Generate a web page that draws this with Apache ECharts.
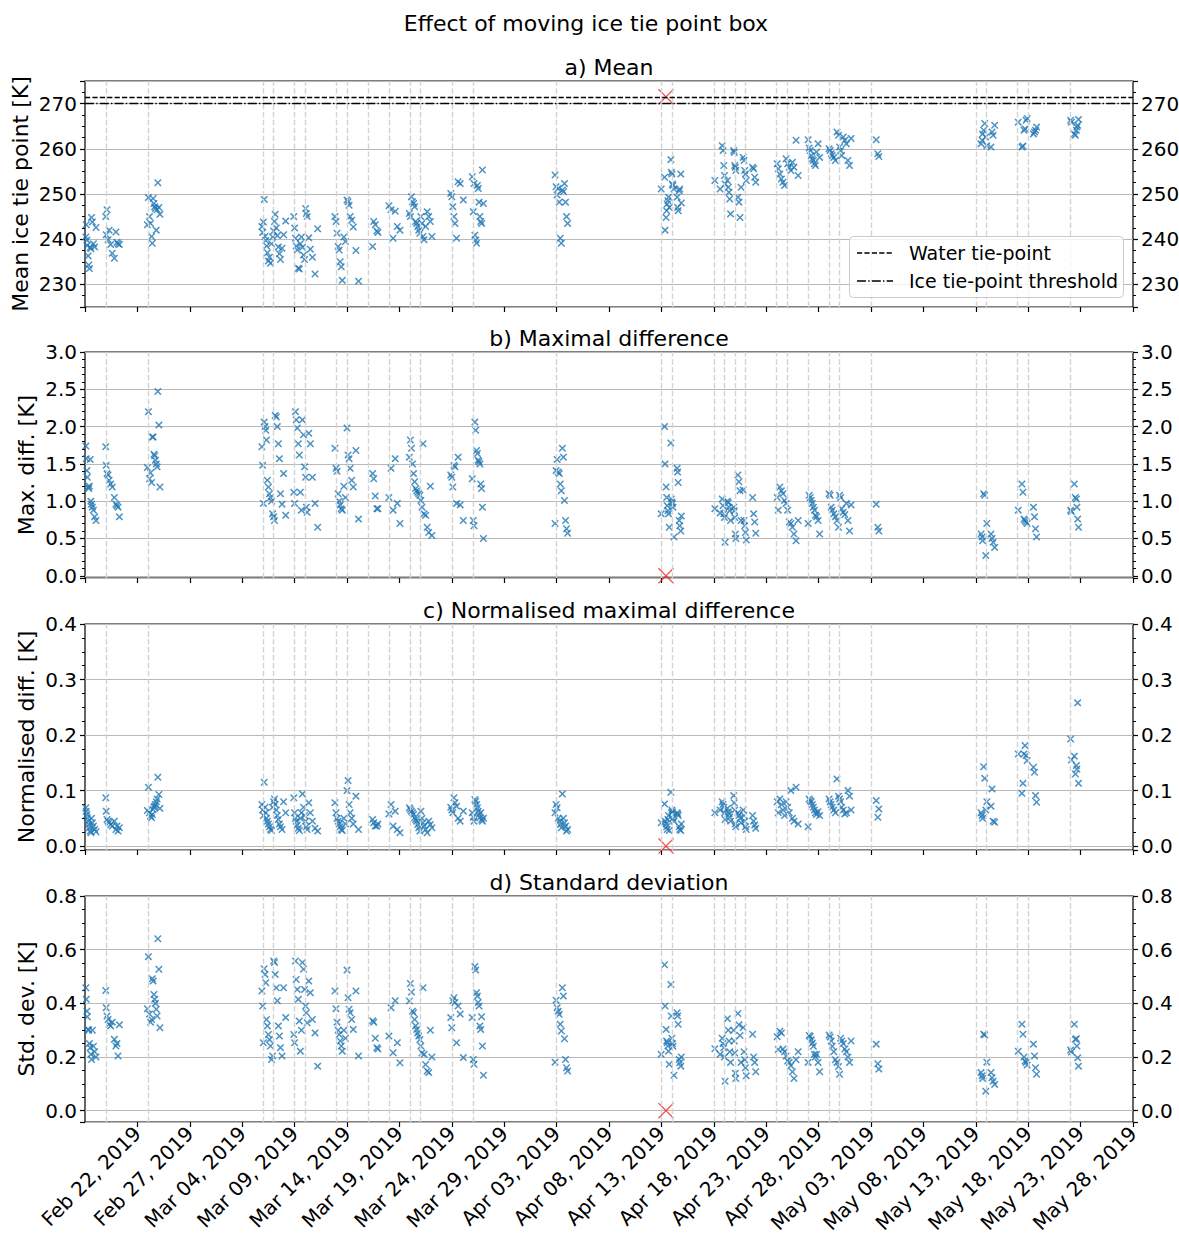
<!DOCTYPE html>
<html>
<head>
<meta charset="utf-8">
<title>Effect of moving ice tie point box</title>
<script src="https://cdn.jsdelivr.net/npm/echarts@6/dist/echarts.min.js"></script>
<style>
html, body { margin: 0; padding: 0; background: #fff; }
#main { width: 1179px; height: 1238px; }
</style>
</head>
<body>
<div id="main"></div>
<script>
// x values are days since 2019-02-17 00:00
var startDate = [2019, 1, 17];
var monthNames = ['Jan', 'Feb', 'Mar', 'Apr', 'May', 'Jun', 'Jul', 'Aug', 'Sep', 'Oct', 'Nov', 'Dec'];

// days with a grey dashed marker
var eventDays = [2, 6, 17, 18, 20, 21, 24, 25, 27, 29, 31, 32, 35, 37, 45,
    55, 56, 60, 61, 62, 63, 66, 67, 69, 71, 72, 75, 85, 86, 89, 90, 94];

var waterTiePoint = 271.5;
var iceThreshold = 270;

// time of each run
var obsDay = [
    0.08, 0.12, 0.18, 0.22, 0.3, 0.36, 0.42, 0.5, 0.56, 0.62, 0.7, 0.8, 0.92, 1.05,
    1.98, 2.02, 2.1, 2.2, 2.3, 2.45, 2.6, 2.8, 2.95, 3.05, 3.15, 3.28,
    5.95, 6.05, 6.15, 6.25, 6.35, 6.42, 6.5, 6.58, 6.65, 6.72, 6.8, 6.88, 6.95, 7.05, 7.15,
    16.88, 16.95, 17.02, 17.1, 17.18, 17.25, 17.32, 17.4, 17.5, 17.6, 17.7, 17.8, 17.9, 18.0, 18.08, 18.15, 18.25, 18.35, 18.45, 18.55, 18.65, 18.8, 18.95, 19.15,
    19.92, 20.0, 20.08, 20.15, 20.25, 20.35, 20.45, 20.55, 20.65, 20.75, 20.85, 20.95, 21.05, 21.12, 21.2, 21.35, 21.5, 21.7, 21.95, 22.2,
    23.85, 23.95, 24.05, 24.15, 24.25, 24.35, 24.45, 24.55, 24.7, 24.85, 25.0, 25.1, 25.2, 25.3, 25.45, 25.6, 25.85, 26.1,
    27.45, 27.55, 27.7, 27.85, 27.95,
    29.0, 29.2, 29.4, 29.6, 29.8, 30.05,
    30.95, 31.05, 31.15, 31.25, 31.35, 31.45, 31.55, 31.65, 31.75, 31.85, 31.95, 32.05, 32.15, 32.25, 32.35, 32.5, 32.65, 32.8, 32.95, 33.1,
    34.9, 35.0, 35.1, 35.2, 35.3, 35.45, 35.6, 35.8, 36.1,
    36.95, 37.05, 37.12, 37.2, 37.28, 37.36, 37.44, 37.52, 37.6, 37.68, 37.76, 37.84, 37.92, 38.02,
    44.85, 44.95, 45.05, 45.15, 45.25, 45.35, 45.45, 45.55, 45.65, 45.75, 45.85, 45.95, 46.05,
    54.98, 55.3, 55.35, 55.45, 55.5, 55.55, 55.62, 55.68, 55.75, 55.9, 55.95, 56.0, 56.05, 56.1, 56.2, 56.5, 56.55, 56.6, 56.7, 56.75, 56.85, 56.9,
    60.1, 60.6, 60.8, 60.88, 60.95, 61.02, 61.08, 61.3, 61.38, 61.45, 61.52, 61.6, 61.9, 61.95, 62.0, 62.05, 62.1, 62.3, 62.4, 62.5, 62.6, 62.8, 62.88, 62.95, 63.02, 63.1, 63.7, 63.8, 63.9, 64.0,
    66.05, 66.15, 66.3, 66.45, 66.6, 66.75, 66.9, 67.05, 67.2, 67.35, 67.5, 67.65, 67.85, 68.05,
    69.0, 69.1, 69.2, 69.3, 69.4, 69.5, 69.6, 69.7, 69.8, 69.95, 70.1,
    71.0, 71.1, 71.2, 71.3, 71.45, 71.6, 71.75, 71.9, 72.0, 72.1, 72.2, 72.35, 72.5, 72.65, 72.8, 72.95, 73.1,
    75.5, 75.65, 75.75,
    85.5, 85.6, 85.65, 85.75, 85.85, 85.95, 86.05, 86.45, 86.55, 86.65, 86.8,
    89.05, 89.4, 89.5, 89.6, 89.7, 89.8, 89.9, 90.5, 90.6, 90.7, 90.8,
    94.05, 94.12, 94.4, 94.5, 94.6, 94.65, 94.72, 94.8
];

// a) mean ice tie point [K]
var meanIce = [
    240.5, 243.2, 239.8, 238.6, 236.3, 234.3, 233.5, 238.2, 237.9, 244.8, 243.8, 239.0, 238.3, 242.6,
    245.0, 241.0, 246.5, 239.9, 242.0, 238.8, 236.9, 235.8, 241.6, 239.3, 239.0, 238.8,
    243.2, 249.2, 245.0, 243.5, 240.6, 239.1, 249.0, 247.9, 247.2, 246.8, 242.0, 246.5, 252.5, 247.0, 245.5,
    242.8, 241.5, 243.8, 248.8, 240.6, 239.7, 238.5, 237.0, 235.2, 236.0, 234.7, 239.0, 240.5, 241.8, 243.9, 245.5, 242.5, 240.8, 238.3, 236.8, 235.5, 238.0, 241.0, 244.0,
    245.0, 242.5, 240.2, 238.5, 237.6, 233.6, 233.4, 239.0, 240.5, 238.2, 236.5, 235.5, 246.8, 245.7, 245.0, 240.3, 237.8, 236.0, 232.3, 242.3,
    245.0, 243.9, 241.3, 238.4, 237.6, 235.0, 233.9, 230.9, 240.5, 239.5, 248.7, 248.3, 247.5, 245.0, 244.2, 242.7, 237.5, 230.7,
    238.4, 243.9, 243.2, 241.8, 241.5,
    247.4, 246.5, 240.2, 246.2, 242.8, 242.0,
    245.7, 245.0, 249.4, 248.3, 247.9, 247.2, 243.9, 243.5, 242.8, 242.0, 241.3, 245.0, 243.5, 240.6, 239.9, 242.8, 246.1, 245.0, 243.9, 240.6,
    250.1, 249.4, 247.2, 245.0, 243.5, 240.2, 252.7, 252.3, 248.7,
    253.8, 246.1, 252.3, 240.9, 239.8, 239.1, 251.9, 251.2, 248.2, 245.0, 243.9, 243.5, 255.3, 247.9,
    254.2, 251.6, 249.8, 251.2, 248.2, 240.2, 239.1, 250.9, 250.5, 252.3, 248.2, 245.0, 243.5,
    251.1, 253.7, 242.0, 244.8, 246.3, 247.8, 248.5, 249.3, 247.0, 257.6, 254.8, 254.4, 252.2, 251.9, 251.1, 249.3, 247.0, 246.3, 250.7, 251.1, 254.4, 248.0,
    253.0, 251.1, 260.7, 259.6, 256.3, 254.1, 252.2, 253.0, 251.5, 250.4, 248.9, 245.6, 259.6, 259.2, 256.3, 255.9, 255.2, 249.3, 248.2, 244.8, 251.5, 258.1, 257.4, 255.2, 254.4, 253.0, 255.9, 255.6, 253.7, 252.6,
    256.7, 255.6, 254.4, 253.3, 252.6, 251.9, 257.8, 256.7, 255.9, 255.2, 257.0, 255.9, 261.9, 254.1,
    262.0, 260.2, 259.6, 258.5, 257.8, 257.4, 256.7, 256.3, 259.3, 261.1, 258.1,
    260.0, 259.6, 258.9, 258.5, 258.1, 257.4, 263.7, 263.0, 260.4, 259.6, 258.5, 262.6, 261.9, 261.1, 257.4, 256.3, 262.3,
    262.0, 258.9, 258.3,
    261.1, 261.9, 263.3, 264.1, 265.6, 262.6, 260.7, 260.4, 263.7, 263.0, 265.2,
    265.9, 260.4, 260.6, 264.1, 264.4, 266.3, 266.7, 263.3, 263.7, 264.1, 264.8,
    266.3, 265.9, 263.3, 263.0, 264.1, 264.8, 265.2, 266.5
];

// b) maximal difference [K]
var maxDiff = [
    1.74, 1.57, 1.41, 1.32, 1.19, 1.17, 1.2, 1.56, 1.0, 0.96, 0.92, 0.88, 0.79, 0.74,
    1.73, 1.48, 1.37, 1.35, 1.28, 1.23, 1.19, 1.05, 0.96, 0.94, 0.92, 0.79,
    1.45, 2.2, 1.3, 1.38, 1.25, 1.86, 1.86, 1.63, 1.61, 1.55, 1.5, 1.46, 2.47, 2.02, 1.19,
    1.73, 1.48, 0.97, 2.06, 2.0, 1.95, 1.82, 1.28, 1.19, 1.1, 1.05, 1.0, 0.83, 0.79, 0.74, 2.15, 2.13, 2.0, 1.77, 1.57, 1.1, 0.96, 1.37, 0.81,
    1.12, 0.97, 2.2, 2.09, 1.98, 1.77, 1.62, 1.12, 0.88, 2.09, 1.89, 1.46, 1.32, 0.92, 0.85, 1.91, 1.77, 1.32, 0.97, 0.65,
    1.71, 1.44, 1.4, 1.1, 1.0, 0.95, 0.9, 0.88, 1.2, 1.05, 1.98, 1.62, 1.57, 1.44, 1.28, 1.19, 1.68, 0.76,
    1.37, 1.3, 1.07, 0.9, 0.9,
    1.05, 1.44, 0.88, 1.57, 0.97, 0.7,
    1.59, 1.82, 1.71, 1.5, 1.37, 1.26, 1.17, 1.14, 1.12, 1.1, 1.08, 1.01, 0.92, 1.77, 0.83, 0.81, 0.65, 0.58, 1.2, 0.54,
    1.35, 1.32, 1.19, 1.48, 1.46, 0.97, 1.59, 0.95, 0.74,
    1.3, 0.74, 0.67, 2.06, 1.95, 1.68, 1.64, 1.55, 1.53, 1.5, 1.23, 1.17, 0.92, 0.5,
    0.7, 1.41, 1.56, 1.39, 1.37, 1.23, 1.14, 1.71, 1.59, 1.01, 0.74, 0.63, 0.57,
    0.83, 2.0, 1.5, 1.19, 1.05, 0.94, 0.87, 0.83, 0.65, 1.78, 1.03, 0.99, 0.97, 0.92, 0.52, 1.44, 1.39, 1.25, 0.74, 0.67, 0.6, 0.8,
    0.9, 0.84, 1.03, 0.94, 0.83, 0.78, 0.45, 1.0, 0.98, 0.92, 0.87, 0.74, 0.92, 0.87, 0.78, 0.56, 0.5, 1.35, 1.26, 1.14, 0.74, 1.15, 0.74, 0.67, 0.58, 0.48, 1.05, 0.83, 0.72, 0.57,
    1.05, 0.88, 1.19, 1.14, 1.1, 1.01, 0.97, 0.88, 0.72, 0.7, 0.65, 0.56, 0.47, 0.74,
    0.7, 1.08, 1.05, 1.01, 0.97, 0.92, 0.88, 0.81, 0.79, 0.74, 0.56,
    1.1, 1.08, 0.92, 0.88, 0.83, 0.79, 0.74, 0.65, 1.08, 1.05, 0.9, 0.85, 0.82, 0.97, 0.74, 0.6, 0.95,
    0.96, 0.65, 0.6,
    0.56, 0.52, 0.47, 1.1, 1.08, 0.27, 0.7, 0.56, 0.5, 0.45, 0.38,
    0.88, 1.23, 1.12, 0.76, 0.74, 0.72, 0.7, 0.92, 0.79, 0.63, 0.52,
    0.88, 0.86, 1.23, 1.05, 1.03, 0.92, 0.76, 0.65
];

// c) normalised maximal difference [K]
var normDiff = [
    0.069, 0.063, 0.057, 0.051, 0.045, 0.039, 0.033, 0.027, 0.024, 0.05, 0.042, 0.036, 0.03, 0.026,
    0.087, 0.063, 0.048, 0.045, 0.042, 0.039, 0.036, 0.045, 0.03, 0.036, 0.027, 0.033,
    0.064, 0.106, 0.06, 0.054, 0.051, 0.057, 0.066, 0.07, 0.072, 0.075, 0.08, 0.085, 0.124, 0.093, 0.068,
    0.075, 0.065, 0.055, 0.115, 0.07, 0.06, 0.05, 0.045, 0.04, 0.035, 0.03, 0.028, 0.07, 0.08, 0.085, 0.075, 0.065, 0.055, 0.048, 0.04, 0.035, 0.03, 0.08, 0.06,
    0.087, 0.06, 0.05, 0.045, 0.038, 0.032, 0.028, 0.05, 0.06, 0.094, 0.07, 0.055, 0.045, 0.035, 0.03, 0.078, 0.06, 0.045, 0.032, 0.027,
    0.078, 0.06, 0.05, 0.045, 0.04, 0.035, 0.03, 0.028, 0.05, 0.04, 0.1, 0.118, 0.075, 0.06, 0.05, 0.04, 0.09, 0.03,
    0.048, 0.042, 0.036, 0.036, 0.04,
    0.058, 0.075, 0.036, 0.063, 0.03, 0.024,
    0.069, 0.066, 0.063, 0.06, 0.057, 0.051, 0.048, 0.045, 0.039, 0.033, 0.027, 0.063, 0.05, 0.042, 0.036, 0.03, 0.024, 0.045, 0.039, 0.033,
    0.07, 0.065, 0.06, 0.087, 0.078, 0.072, 0.05, 0.045, 0.063,
    0.06, 0.052, 0.045, 0.084, 0.081, 0.075, 0.069, 0.063, 0.057, 0.051, 0.06, 0.048, 0.045, 0.05,
    0.06, 0.075, 0.069, 0.05, 0.045, 0.039, 0.033, 0.094, 0.05, 0.042, 0.036, 0.027, 0.03,
    0.042, 0.076, 0.045, 0.04, 0.035, 0.03, 0.048, 0.055, 0.028, 0.097, 0.06, 0.065, 0.062, 0.05, 0.045, 0.06, 0.058, 0.055, 0.035, 0.03, 0.028, 0.04,
    0.06, 0.065, 0.08, 0.075, 0.07, 0.06, 0.048, 0.068, 0.062, 0.058, 0.052, 0.045, 0.091, 0.078, 0.065, 0.04, 0.035, 0.06, 0.055, 0.05, 0.042, 0.065, 0.055, 0.045, 0.035, 0.03, 0.055, 0.045, 0.038, 0.032,
    0.08, 0.06, 0.085, 0.075, 0.065, 0.055, 0.08, 0.07, 0.06, 0.1, 0.05, 0.045, 0.106, 0.04,
    0.035, 0.085, 0.082, 0.08, 0.075, 0.07, 0.065, 0.06, 0.057, 0.062, 0.055,
    0.085, 0.08, 0.075, 0.07, 0.065, 0.06, 0.121, 0.09, 0.085, 0.08, 0.07, 0.065, 0.058, 0.06, 0.1, 0.09, 0.065,
    0.082, 0.052, 0.067,
    0.06, 0.055, 0.05, 0.143, 0.122, 0.065, 0.08, 0.072, 0.103, 0.045, 0.043,
    0.166, 0.095, 0.113, 0.166, 0.181, 0.163, 0.154, 0.142, 0.133, 0.091, 0.079,
    0.193, 0.155, 0.162, 0.13, 0.145, 0.139, 0.258, 0.113
];

// d) standard deviation [K]
var stdDev = [
    0.458, 0.415, 0.371, 0.35, 0.303, 0.3, 0.25, 0.235, 0.21, 0.191, 0.3, 0.24, 0.22, 0.2,
    0.448, 0.384, 0.353, 0.34, 0.322, 0.316, 0.33, 0.266, 0.241, 0.25, 0.204, 0.32,
    0.38, 0.574, 0.36, 0.33, 0.34, 0.492, 0.483, 0.433, 0.415, 0.4, 0.378, 0.353, 0.641, 0.527, 0.309,
    0.446, 0.39, 0.253, 0.529, 0.508, 0.477, 0.34, 0.316, 0.284, 0.265, 0.241, 0.191, 0.204, 0.558, 0.552, 0.508, 0.458, 0.41, 0.316, 0.278, 0.235, 0.204, 0.458, 0.347,
    0.284, 0.253, 0.558, 0.489, 0.452, 0.415, 0.334, 0.222, 0.3, 0.552, 0.527, 0.452, 0.39, 0.365, 0.328, 0.483, 0.44, 0.34, 0.29, 0.166,
    0.446, 0.38, 0.33, 0.3, 0.284, 0.26, 0.241, 0.222, 0.3, 0.27, 0.524, 0.421, 0.378, 0.365, 0.34, 0.303, 0.446, 0.204,
    0.335, 0.33, 0.27, 0.235, 0.23,
    0.278, 0.384, 0.216, 0.41, 0.253, 0.179,
    0.409, 0.474, 0.442, 0.371, 0.365, 0.34, 0.316, 0.303, 0.29, 0.278, 0.265, 0.241, 0.215, 0.458, 0.21, 0.172, 0.148, 0.142, 0.3, 0.2,
    0.347, 0.309, 0.41, 0.421, 0.403, 0.253, 0.39, 0.36, 0.198,
    0.347, 0.191, 0.173, 0.537, 0.524, 0.44, 0.427, 0.403, 0.39, 0.316, 0.303, 0.35, 0.241, 0.132,
    0.181, 0.412, 0.384, 0.371, 0.359, 0.322, 0.297, 0.458, 0.427, 0.268, 0.191, 0.16, 0.148,
    0.21, 0.544, 0.39, 0.303, 0.26, 0.253, 0.241, 0.222, 0.173, 0.47, 0.353, 0.27, 0.25, 0.24, 0.132, 0.365, 0.353, 0.322, 0.191, 0.179, 0.166, 0.2,
    0.231, 0.21, 0.27, 0.25, 0.235, 0.2, 0.11, 0.343, 0.3, 0.26, 0.22, 0.18, 0.3, 0.26, 0.215, 0.14, 0.12, 0.362, 0.32, 0.28, 0.18, 0.31, 0.22, 0.19, 0.16, 0.13, 0.285, 0.2, 0.18, 0.145,
    0.276, 0.228, 0.296, 0.29, 0.23, 0.22, 0.204, 0.185, 0.18, 0.168, 0.145, 0.12, 0.19, 0.22,
    0.18, 0.28, 0.277, 0.264, 0.252, 0.24, 0.21, 0.2, 0.21, 0.18, 0.145,
    0.282, 0.275, 0.26, 0.24, 0.22, 0.19, 0.18, 0.165, 0.136, 0.27, 0.26, 0.25, 0.23, 0.22, 0.2, 0.18, 0.26,
    0.248, 0.175, 0.155,
    0.142, 0.13, 0.12, 0.285, 0.282, 0.073, 0.181, 0.142, 0.123, 0.11, 0.098,
    0.222, 0.322, 0.285, 0.2, 0.185, 0.18, 0.17, 0.248, 0.204, 0.16, 0.136,
    0.226, 0.219, 0.322, 0.266, 0.268, 0.241, 0.197, 0.166
];

// the run with the box moved onto water (red cross)
var outlierDay = 55.44;
var outlierValues = [271.5, 0, 0, 0];

var panelTitles = ['a) Mean', 'b) Maximal difference', 'c) Normalised maximal difference', 'd) Standard deviation'];
var yLabels = ['Mean ice tie point [K]', 'Max. diff. [K]', 'Normalised diff. [K]', 'Std. dev. [K]'];
var panelValues = [meanIce, maxDiff, normDiff, stdDev];

// axes setup
var yRange = [[225, 275], [-0.03, 3], [-0.007, 0.4], [-0.042, 0.8]];
var ySplit = [5, 6, 4, 4];
var yMinor = [4, 5, 4, 4];
var yDigits = [0, 1, 1, 1];
var yNameGap = [54, 48, 48, 48];
var gridTop = [81, 352, 624, 896];
var gridHeight = 226;
var gridLeft = 85, gridRight = 46;

var font = 'DejaVu Sans';
var blue = '#1f77b4';
var xMark = 'path://M0,1.4L1.4,0L5,3.6L8.6,0L10,1.4L6.4,5L10,8.6L8.6,10L5,6.4L1.4,10L0,8.6L3.6,5Z';
var redMark = 'path://M0,0.55L0.55,0L5,4.45L9.45,0L10,0.55L5.55,5L10,9.45L9.45,10L5,5.55L0.55,10L0,9.45L4.45,5Z';

function dayLabel(d) {
    if (d <= 0) return '';
    var dt = new Date(startDate[0], startDate[1], startDate[2] + d);
    var dd = dt.getDate();
    return monthNames[dt.getMonth()] + ' ' + (dd < 10 ? '0' + dd : dd) + ', ' + dt.getFullYear();
}

var myChart = echarts.init(document.getElementById('main'), null, {renderer: 'svg'});

var grids = [], xAxes = [], yAxes = [], series = [], graphics = [];

gridTop.forEach(function (top, i) {
    grids.push({
        left: gridLeft, right: gridRight, top: top, height: gridHeight,
        show: true, borderColor: '#000', borderWidth: 1.2,
        backgroundColor: 'transparent', containLabel: false, outerBoundsMode: 'none'
    });

    xAxes.push({
        type: 'value', gridIndex: i, min: 0, max: 100, interval: 5,
        axisLine: {show: false, onZero: false},
        axisTick: {show: true, length: 5, lineStyle: {color: '#000', width: 1.2}},
        splitLine: {show: false},
        axisLabel: {
            show: i === 3, rotate: 45, margin: 8, fontSize: 20, fontFamily: font, color: '#000',
            showMinLabel: false, showMaxLabel: true, formatter: dayLabel
        }
    });

    ['left', 'right'].forEach(function (side) {
        yAxes.push({
            type: 'value', gridIndex: i, position: side,
            min: yRange[i][0], max: yRange[i][1], splitNumber: ySplit[i],
            axisLine: {show: false, onZero: false},
            axisTick: {show: true, length: 5, lineStyle: {color: '#000', width: 1.2}},
            minorTick: {show: true, splitNumber: yMinor[i], length: 3, lineStyle: {color: '#000', width: 1}},
            splitLine: {show: side === 'left', lineStyle: {color: '#b8b8b8', width: 1.2}},
            axisLabel: {
                fontSize: 20, fontFamily: font, color: '#000', margin: 8,
                showMinLabel: false, showMaxLabel: i !== 0,
                formatter: function (v) { return v.toFixed(yDigits[i]); }
            },
            name: side === 'left' ? yLabels[i] : '',
            nameLocation: 'middle', nameGap: yNameGap[i], nameMoveOverlap: false,
            nameTextStyle: {fontSize: 22, fontFamily: font, color: '#000'}
        });
    });

    var vals = panelValues[i];
    series.push({
        type: 'scatter', xAxisIndex: i, yAxisIndex: 2 * i,
        data: obsDay.map(function (d, k) { return [d, vals[k]]; }),
        symbol: xMark, symbolSize: 7.5,
        itemStyle: {color: blue},
        z: 3, silent: true
    });
    series.push({
        type: 'scatter', xAxisIndex: i, yAxisIndex: 2 * i,
        data: [[outlierDay, outlierValues[i]]],
        symbol: redMark, symbolSize: 16,
        itemStyle: {color: '#f01c1c'},
        z: 4, silent: true
    });

    var lines = eventDays.map(function (d) {
        return {xAxis: d, lineStyle: {color: '#d3d3d3', width: 1.4, type: [5.5, 2.4]}};
    });
    if (i === 0) {
        lines.push({yAxis: waterTiePoint, lineStyle: {color: '#000', width: 1.3, type: [5.2, 2.2]}});
        lines.push({yAxis: iceThreshold, lineStyle: {color: '#000', width: 1.3, type: [9, 2.2, 1.4, 2.2]}});
    }
    series.push({
        type: 'line', xAxisIndex: i, yAxisIndex: 2 * i, data: [], z: 1, silent: true,
        markLine: {silent: true, symbol: ['none', 'none'], label: {show: false}, animation: false, data: lines}
    });

    graphics.push({
        type: 'text', x: gridLeft + (1179 - gridLeft - gridRight) / 2, y: top - 14,
        style: {text: panelTitles[i], fill: '#000', font: '22px "DejaVu Sans"',
            align: 'center', verticalAlign: 'middle', textAlign: 'center', textVerticalAlign: 'middle'}
    });
});

// figure title
graphics.push({
    type: 'text', x: 586, y: 23,
    style: {text: 'Effect of moving ice tie point box', fill: '#000', font: '22px "DejaVu Sans"',
        align: 'center', verticalAlign: 'middle', textAlign: 'center', textVerticalAlign: 'middle'}
});

// legend of panel a
graphics.push(
    {type: 'rect', z: 100, zlevel: 1, shape: {x: 849.5, y: 236.5, width: 274, height: 61, r: 4},
        style: {fill: 'rgba(255,255,255,0.8)', stroke: '#cccccc', lineWidth: 1}},
    {type: 'line', z: 101, zlevel: 1, shape: {x1: 857, y1: 253, x2: 893, y2: 253},
        style: {stroke: '#000', lineWidth: 1.3, lineDash: [5.2, 2.2]}},
    {type: 'line', z: 101, zlevel: 1, shape: {x1: 857, y1: 281, x2: 893, y2: 281},
        style: {stroke: '#000', lineWidth: 1.3, lineDash: [9, 2.2, 1.4, 2.2]}},
    {type: 'text', z: 101, zlevel: 1, x: 909, y: 253,
        style: {text: 'Water tie-point', fill: '#000', font: '19px "DejaVu Sans"',
            verticalAlign: 'middle', textVerticalAlign: 'middle'}},
    {type: 'text', z: 101, zlevel: 1, x: 909, y: 281,
        style: {text: 'Ice tie-point threshold', fill: '#000', font: '19px "DejaVu Sans"',
            verticalAlign: 'middle', textVerticalAlign: 'middle'}}
);

var option = {
    backgroundColor: '#fff',
    animation: false,
    textStyle: {fontFamily: font},
    grid: grids,
    xAxis: xAxes,
    yAxis: yAxes,
    series: series,
    graphic: graphics
};

myChart.setOption(option);
</script>
</body>
</html>
